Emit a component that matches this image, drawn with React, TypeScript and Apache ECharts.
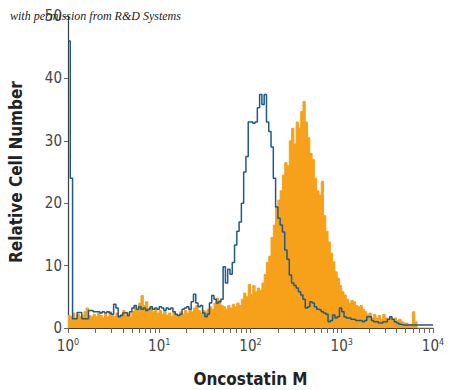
import React, { useEffect, useRef } from "react";
import * as echarts from "echarts";

// Histogram bins: each bin spans BIN_STEP decades, starting at 10^0
const BIN_STEP = 0.025;

// Isotype control (blue outline) – relative cell number per bin
const controlCounts = [
  46, 24, 1.5, 1.5, 2.5, 2.5, 1.5, 1.5,
  1.5, 2.8, 2.8, 2.6, 2.6, 2.6, 2.4, 2.6,
  2.4, 2.6, 2.4, 2.2, 3.8, 3.2, 1.8, 2.0,
  2.4, 2.5, 2.0, 2.6, 3.2, 3.6, 3.0, 3.4,
  3.0, 3.2, 2.8, 3.0, 3.4, 3.0, 3.2, 3.0,
  3.4, 3.2, 2.8, 3.2, 3.0, 3.2, 2.6, 2.2,
  2.0, 2.2, 3.0, 3.2, 3.4, 3.0, 4.2, 5.4,
  4.0, 3.4, 3.6, 2.4, 1.8, 2.2, 4.0, 5.2,
  4.6, 4.0, 4.2, 4.6, 9.8, 7.2, 9.4, 8.6,
  10.5, 13.3, 15.5, 17, 20, 25, 27.5, 33,
  33, 32.8, 33, 35.3, 37.4, 35.8, 37.4, 33,
  31.5, 29, 24, 19.4, 17.6, 16.5, 15.4, 12.5,
  11, 8.5, 7.2, 6.8, 6.4, 5.8, 5.3, 4.6,
  3.2, 3.4, 4.2, 4.0, 3.4, 3.0, 2.9, 2.6,
  2.4, 2.2, 1.0, 1.2, 2.1, 1.6, 1.8, 3.2,
  2.6, 1.8, 1.6, 1.6, 1.4, 1.4, 1.2, 1.2,
  1.2, 1.0, 1.2, 1.8, 1.8, 1.2, 1.0, 1.0,
  0.8, 0.8, 1.0, 1.0, 1.4, 1.8, 1.4, 1.0,
  0.8, 0.6, 0.5, 0.5, 0.5, 0.5, 0.5, 0.5,
  0.5, 0.5, 0.5, 0.5, 0.5, 0.5, 0.5, 0.5,
];

// Oncostatin M stained cells (orange filled) – relative cell number per bin
const oncostatinCounts = [
  2.0, 1.8, 2.4, 1.6, 2.2, 1.8, 2.0, 2.6,
  3.2, 2.0, 1.8, 2.2, 1.8, 2.4, 2.0, 1.6,
  2.2, 1.8, 2.6, 2.0, 1.8, 2.4, 2.0, 2.2,
  2.8, 2.0, 2.4, 1.8, 2.6, 3.4, 2.8, 4.0,
  5.2, 3.6, 4.2, 3.0, 3.4, 2.6, 3.0, 2.4,
  2.8, 2.2, 2.6, 2.0, 2.4, 1.8, 2.6, 2.2,
  2.0, 2.6, 2.2, 2.8, 2.4, 3.0, 2.6, 3.2,
  3.6, 2.8, 2.4, 2.8, 2.6, 3.0, 3.4, 3.0,
  4.0, 4.8, 4.4, 3.6, 3.4, 3.0, 3.6, 3.2,
  3.8, 3.4, 4.0, 3.6, 4.6, 5.6, 5.0, 7.0,
  5.4, 6.8, 5.8, 6.4, 6.0, 7.2, 8.6, 10.5,
  11.5, 14.5, 16.5, 19.5, 20.5, 22, 24.5, 26.5,
  26, 30, 32, 29.5, 33, 32, 34.7, 36.3,
  33, 30.5, 28, 27, 24, 22, 21.3, 23.5,
  18, 15.5, 13.8, 12, 10.6, 9, 8, 6.8,
  5.8, 5.3, 4.6, 4.0, 4.4, 4.2, 3.6, 3.4,
  3.6, 3.0, 2.6, 2.2, 2.4, 1.6, 2.2, 1.6,
  2.0, 1.4, 2.2, 1.6, 1.4, 1.8, 1.2, 1.6,
  1.2, 1.4, 1.0, 0.8, 0.8, 0.6, 0.6, 2.6,
  1.0, 0, 0, 0, 0, 0, 0, 0,
];

const xTickValues = [
  1, 2, 3, 4, 5, 6, 7, 8, 9,
  10, 20, 30, 40, 50, 60, 70, 80, 90,
  100, 200, 300, 400, 500, 600, 700, 800, 900,
  1000, 2000, 3000, 4000, 5000, 6000, 7000, 8000, 9000,
  10000,
];
const xLabelValues = [1, 10, 100, 1000, 10000];
const xLabelExponents = ["0", "1", "2", "3", "4"];

const FONT = '"Liberation Sans Narrow", "DejaVu Sans Condensed", "Roboto Condensed", sans-serif';
const ORANGE = "#F7A11A";
const BLUE = "#1E5B89";

function toSeries(counts: number[]) {
  const pts = counts.map((c, i) => [Math.pow(10, i * BIN_STEP), c]);
  pts.push([Math.pow(10, counts.length * BIN_STEP), counts[counts.length - 1]]);
  return pts;
}

export default function App() {
  const ref = useRef<HTMLDivElement>(null);
  useEffect(() => {
    if (!ref.current) return;
    const chart = echarts.init(ref.current, undefined, { renderer: "svg" });
    chart.setOption({
      animation: false,
      backgroundColor: "#ffffff",
      grid: { left: 68, right: 17, top: 16, bottom: 62, containLabel: false, outerBoundsMode: "none" },
      xAxis: {
        type: "log",
        logBase: 10,
        min: 1,
        max: 10000,
        name: "Oncostatin M",
        nameLocation: "middle",
        nameGap: 42,
        nameTextStyle: { fontFamily: FONT, fontSize: 17, fontWeight: "bold", color: "#222" },
        axisLine: { show: true, lineStyle: { color: "#3a3f44", width: 1.2 } },
        axisTick: { show: true, length: 5, lineStyle: { color: "#666" }, customValues: xTickValues },
        minorTick: { show: false },
        splitLine: { show: false },
        axisLabel: {
          customValues: xLabelValues,
          margin: 9,
          formatter: (v: number) => {
            const idx = xLabelValues.findIndex((x) => Math.abs(x - v) / x < 1e-6);
            const e = idx >= 0 ? xLabelExponents[idx] : String(Math.round(Math.log10(v)));
            return `{b|10}{s|${e}}`;
          },
          rich: {
            b: { fontFamily: FONT, fontSize: 15, color: "#444", lineHeight: 18 },
            s: { fontFamily: FONT, fontSize: 9, color: "#444", verticalAlign: "top", lineHeight: 18, padding: [0, 0, 6, 0] },
          },
        },
      },
      yAxis: {
        type: "value",
        min: 0,
        max: 50,
        interval: 10,
        name: "Relative Cell Number",
        nameLocation: "middle",
        nameGap: 44,
        nameTextStyle: { fontFamily: FONT, fontSize: 17, fontWeight: "bold", color: "#222" },
        axisLine: { show: true, lineStyle: { color: "#3a3f44", width: 1.2 } },
        axisTick: { show: true, length: 4, lineStyle: { color: "#666" } },
        splitLine: { show: false },
        axisLabel: { fontFamily: FONT, fontSize: 15, color: "#444", margin: 6 },
      },
      graphic: [
        {
          type: "text",
          left: 10,
          top: 10,
          z: 100,
          style: {
            text: "with permission from R&D Systems",
            font: 'italic 12px "Liberation Serif", "DejaVu Serif", serif',
            fill: "#222",
          },
        },
      ],
      series: [
        {
          type: "line",
          name: "Oncostatin M",
          step: "end",
          symbol: "none",
          data: toSeries(oncostatinCounts),
          lineStyle: { color: ORANGE, width: 1 },
          areaStyle: { color: ORANGE, opacity: 1 },
          z: 2,
        },
        {
          type: "line",
          name: "Isotype control",
          step: "end",
          symbol: "none",
          data: toSeries(controlCounts),
          lineStyle: { color: BLUE, width: 1.5 },
          z: 3,
        },
      ],
    });
    return () => chart.dispose();
  }, []);
  return (
    <div
      ref={ref}
      style={{ position: "fixed", left: 0, top: 0, width: 450, height: 390, background: "#fff" }}
    />
  );
}
